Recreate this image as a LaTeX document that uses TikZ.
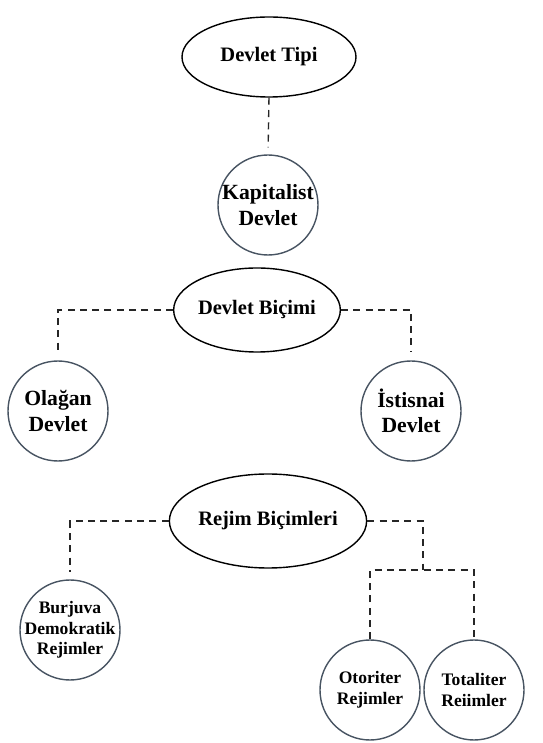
\documentclass[tikz,border=0pt]{standalone}
\usepackage{fontspec}
\setmainfont{Liberation Serif}
\usetikzlibrary{shapes.geometric,calc}
\definecolor{ringGray}{RGB}{72,84,98}

\begin{document}
\begin{tikzpicture}[x=0.03cm,y=0.03cm,
  ov/.style={draw=black,ellipse,line width=1.2pt,inner sep=0pt,font=\fontsize{17.5}{21}\selectfont\bfseries},
  rg/.style={draw=ringGray,circle,line width=1.2pt,inner sep=0pt,minimum size=3cm,align=center},
  bigtxt/.style={font=\fontsize{18.5}{21.5}\selectfont\bfseries},
  smalltxt/.style={font=\fontsize{15}{17.5}\selectfont\bfseries},
  dl/.style={dash pattern=on 6pt off 4.5pt,line width=1.2pt,black!85}]
\useasboundingbox (0,0) rectangle (543,743);
% devlet tipi
\node[ov,minimum width=5.22cm,minimum height=2.4cm] (tip) at (269,686) {Devlet Tipi};
\node[rg,bigtxt] (kap) at (268,538) {Kapitalist\\Devlet};
% devlet bicimi
\node[ov,minimum width=5.0cm,minimum height=2.52cm] (bicim) at (257,433) {Devlet Biçimi};
\node[rg,bigtxt] (olagan) at (58,332) {Olağan\\Devlet};
\node[rg,bigtxt] (istisna) at (411,332) {İstisnai\\Devlet};
% rejim bicimleri
\node[ov,minimum width=5.1cm,minimum height=2.82cm] (rejim) at (268,222) {Rejim Biçimleri};
\node[rg,smalltxt,inner sep=-3.5pt] (burj) at (70,113) {Burjuva\\Demokratik\\Rejimler};
\node[rg,smalltxt] (otor) at (370,53) {Otoriter\\Rejimler};
\node[rg,smalltxt] (total) at (474,53) {Totaliter\\Reiimler};
\coordinate (ayr) at (423,173);
% baglantilar
\draw[dl,shorten >=6pt] (tip.south) -- (kap.north);
\draw[dl,shorten >=7pt] (bicim.west) -| (olagan.north);
\draw[dl,shorten >=7pt] (bicim.east) -| (istisna.north);
\draw[dl,shorten >=6pt] (rejim.west) -| (burj.north);
\draw[dl] (rejim.east) -| (ayr);
\draw[dl] (otor.north) |- (ayr) -| (total.north);
\end{tikzpicture}
\end{document}
